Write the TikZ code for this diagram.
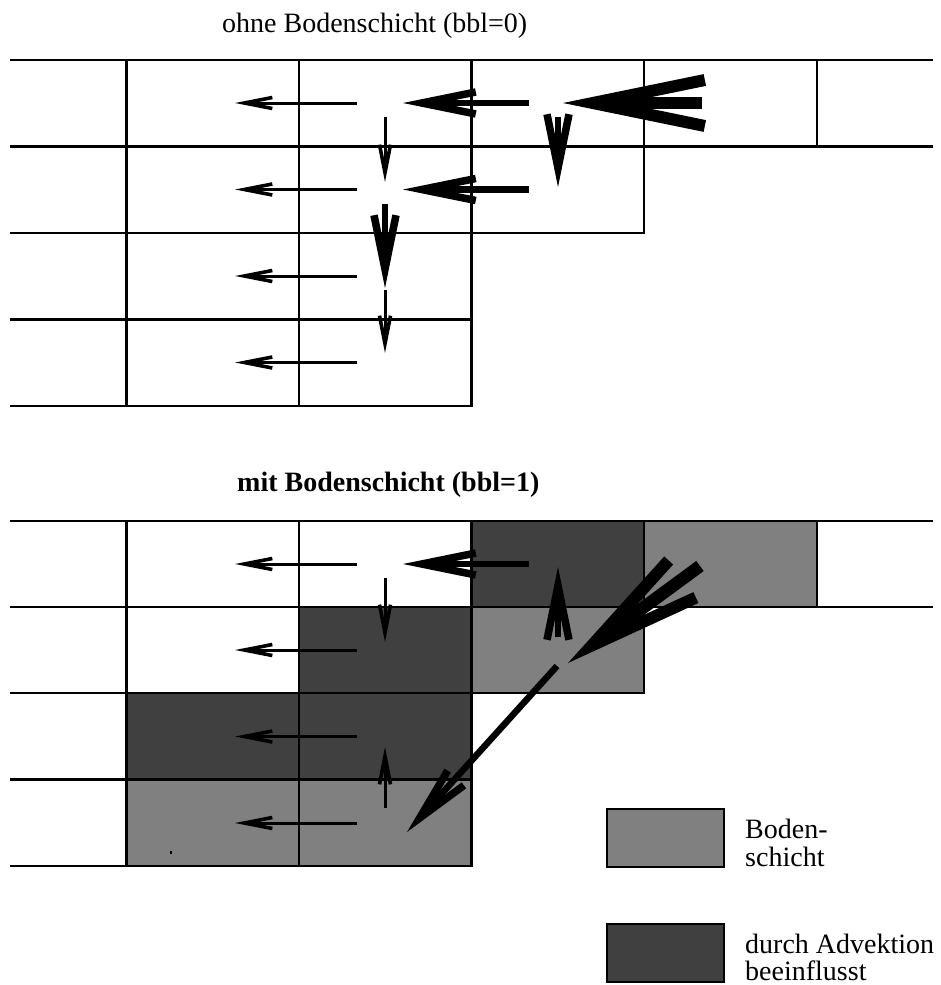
\documentclass[tikz,border=0pt]{standalone}
\usepackage{fontspec}
\setmainfont{Liberation Serif}
\usetikzlibrary{arrows.meta}
\definecolor{soil}{HTML}{808080}
\definecolor{adv}{HTML}{404040}
\tikzset{
  hline/.style={line width=2.8pt},
  vline/.style={line width=2.2pt},
  thinarr/.style={line width=3pt, -{Straight Barb[length=28pt,width=11pt,line width=3.6pt]}},
  medarr/.style={line width=6.5pt, -{Straight Barb[length=54pt,width=22pt,line width=7.5pt]}},
  thickarr/.style={line width=12.5pt, -{Straight Barb[length=112pt,width=46pt,line width=12pt]}},
  lbl/.style={inner sep=0pt, anchor=base west, font=\fontsize{28}{28}\selectfont},
  legbox/.style={draw, line width=2.4pt},
}
\begin{document}
\begin{tikzpicture}[x=1pt,y=-1pt]
\useasboundingbox (0,0) rectangle (940,985);

% titles
\node[lbl] (t1) at (222,32) {ohne Bodenschicht (bbl=0)};
\node[lbl,font=\fontsize{28}{28}\selectfont\bfseries] (t2) at (237,491) {mit Bodenschicht (bbl=1)};

% ---------------- top grid ----------------
\draw[hline] (10,60) -- (933,60);
\draw[hline] (10,146.5) -- (933,146.5);
\draw[hline] (10,233) -- (644,233);
\draw[hline] (10,319.5) -- (471.5,319.5);
\draw[hline] (10,406) -- (471.5,406);
\draw[vline] (126.5,60) -- (126.5,406);
\draw[vline] (299,60) -- (299,406);
\draw[vline] (471.5,60) -- (471.5,407);
\draw[vline] (644,60) -- (644,234);
\draw[vline] (817,60) -- (817,146.5);

% top arrows
\draw[thinarr] (357,103) -- (235,103);
\draw[medarr] (529,103) -- (403,103);
\draw[thickarr] (702,103) -- (563,103);
\draw[thinarr] (357,189.5) -- (235,189.5);
\draw[medarr] (529,189.5) -- (403,189.5);
\draw[thinarr] (357,276) -- (235,276);
\draw[thinarr] (357,362.5) -- (235,362.5);
\draw[thinarr] (385,117) -- (385,182);
\draw[medarr] (385,204) -- (385,288);
\draw[thinarr] (385,290) -- (385,353);
\draw[medarr] (558,117) -- (558,187);

% ---------------- bottom grid ----------------
\fill[adv] (471.5,521) rectangle (644,607);
\fill[soil] (644,521) rectangle (817,607);
\fill[adv] (299,607) rectangle (471.5,693);
\fill[soil] (471.5,607) rectangle (644,693);
\fill[adv] (126.5,693) rectangle (471.5,779.5);
\fill[soil] (126.5,779.5) rectangle (471.5,866);
\fill (169.5,850.5) rectangle (171.5,853.5);

\draw[hline] (10,521) -- (933,521);
\draw[hline] (10,607) -- (933,607);
\draw[hline] (10,693) -- (644,693);
\draw[hline] (10,779.5) -- (471.5,779.5);
\draw[hline] (10,866) -- (471.5,866);
\draw[vline] (126.5,521) -- (126.5,866);
\draw[vline] (299,521) -- (299,866);
\draw[vline] (471.5,521) -- (471.5,867);
\draw[vline] (644,521) -- (644,694);
\draw[vline] (817,521) -- (817,607);

% bottom arrows
\draw[thinarr] (357,564) -- (235,564);
\draw[medarr] (529,564) -- (403,564);
\draw[thinarr] (357,650) -- (235,650);
\draw[thinarr] (357,736.5) -- (235,736.5);
\draw[thinarr] (357,823) -- (235,823);
\draw[thinarr] (385,578) -- (385,642);
\draw[thinarr] (385,808) -- (385,747);
\draw[medarr] (558,637) -- (558,567);
\draw[thickarr] (700,566) -- (568,663);
\draw[medarr] (557,666) -- (407,832);

% legend
\draw[legbox, fill=soil] (607,809) rectangle (724,867);
\node[lbl] (l1a) at (745,838) {Boden-};
\node[lbl] (l1b) at (745,866) {schicht};
\draw[legbox, fill=adv] (607,924) rectangle (724,982);
\node[lbl] (l2a) at (745,953) {durch Advektion};
\node[lbl] (l2b) at (745,980) {beeinflusst};
\end{tikzpicture}
\end{document}
